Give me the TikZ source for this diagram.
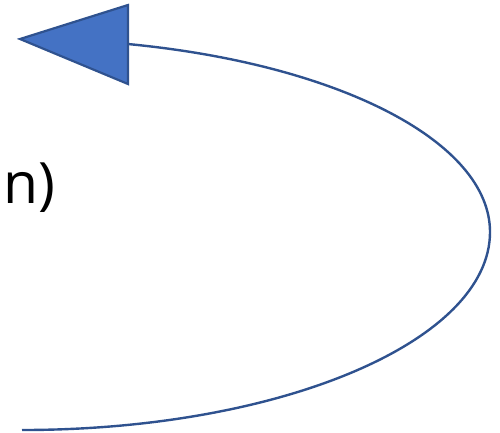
\documentclass[tikz,border=0pt]{standalone}
\usepackage{fontspec}
\setmainfont{Open Sans}
\definecolor{arrowfill}{HTML}{4472C4}
\definecolor{arrowline}{HTML}{2F528F}
\tikzset{
  curveline/.style={draw=arrowline, line width=2.4bp},
  headtri/.style={fill=arrowfill, draw=arrowline, line width=2.2bp, line join=miter},
  bigtext/.style={inner sep=0pt, font=\fontsize{57bp}{62bp}\selectfont}
}
\begin{document}
\begin{tikzpicture}[x=1bp,y=-1bp]
\useasboundingbox (0,0) rectangle (500,432);
\coordinate (start) at (22,430);
\coordinate (tip) at (20,39);
\coordinate (tr) at (128,5);
\coordinate (br) at (128,84);
\coordinate (join) at (128,44);
\draw[curveline] (start) arc[start angle=90,end angle=0,x radius=468,y radius=198]
  arc[start angle=0,end angle=-76.9,x radius=468,y radius=193];
\path[headtri] (tip) -- (tr) -- (br) -- cycle;
\node[bigtext, anchor=base west] (label) at (3,203) {n)};
\end{tikzpicture}
\end{document}
